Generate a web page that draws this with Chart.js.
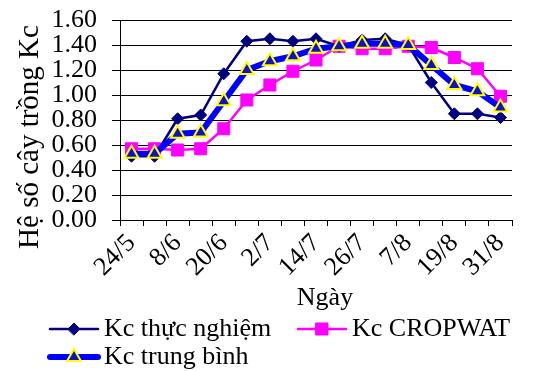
<!DOCTYPE html>
<html lang="vi">
<head>
<meta charset="UTF-8">
<title>Kc</title>
<style>
  body { margin: 0; background: #fff; }
  canvas { display: block; }
</style>
<script src="https://cdn.jsdelivr.net/npm/chart.js"></script>
</head>
<body>
<canvas id="kcChart" width="536" height="371"></canvas>
<script>
// ngày đo (chỉ hiện nhãn cách một)
const days = ['24/5', '31/5', '8/6', '14/6', '20/6', '26/6', '2/7', '8/7', '14/7',
              '20/7', '26/7', '1/8', '7/8', '13/8', '19/8', '25/8', '31/8'];
const kcThucNghiem = [0.51, 0.51, 0.81, 0.84, 1.17, 1.43, 1.45, 1.43, 1.45,
                      1.39, 1.44, 1.45, 1.40, 1.10, 0.85, 0.85, 0.82];
const kcCropwat = [0.57, 0.57, 0.56, 0.57, 0.73, 0.96, 1.08, 1.19, 1.28,
                   1.39, 1.37, 1.37, 1.39, 1.38, 1.30, 1.21, 0.99];
const kcTrungBinh = [0.53, 0.53, 0.69, 0.70, 0.95, 1.20, 1.27, 1.31, 1.37,
                     1.39, 1.41, 1.41, 1.40, 1.24, 1.08, 1.03, 0.90];
const yTicks = [0, 0.2, 0.4, 0.6, 0.8, 1.0, 1.2, 1.4, 1.6];
const seriesNames = ['Kc thực nghiệm', 'Kc CROPWAT', 'Kc trung bình'];
const yTitle = 'Hệ số cây trồng Kc';
const xTitle = 'Ngày';

const FONT = 'Liberation Serif';
const FS = 26;

// legend + axis titles drawn by hand (Excel style line+marker samples)
const excelBits = {
  id: 'excelBits',
  afterDraw(chart) {
    const ctx = chart.ctx;
    ctx.save();
    ctx.fillStyle = '#000';
    ctx.textBaseline = 'middle';

    // y title
    ctx.save();
    ctx.font = '29px "' + FONT + '"';
    ctx.translate(30, 137);
    ctx.rotate(-Math.PI / 2);
    ctx.textAlign = 'center';
    ctx.fillText(yTitle, 0, 0);
    ctx.restore();

    ctx.font = FS + 'px "' + FONT + '"';
    // x title
    ctx.textAlign = 'center';
    ctx.fillText(xTitle, 325, 298);

    const spots = [[48, 329], [296, 329], [48, 357]];
    chart.data.datasets.forEach((ds, i) => {
      const [x, y] = spots[i];
      ctx.save();
      ctx.strokeStyle = ds.borderColor;
      ctx.lineWidth = ds.borderWidth;
      ctx.lineCap = 'round';
      ctx.beginPath();
      ctx.moveTo(x + 2, y);
      ctx.lineTo(x + 50, y);
      ctx.stroke();
      ctx.fillStyle = ds.pointBackgroundColor;
      ctx.strokeStyle = ds.pointBorderColor;
      ctx.lineWidth = ds.pointBorderWidth;
      Chart.helpers.drawPoint(ctx, {
        pointStyle: ds.pointStyle, radius: ds.pointRadius, rotation: 0,
        borderWidth: ds.pointBorderWidth
      }, x + 26, y);
      ctx.restore();
      ctx.textAlign = 'left';
      ctx.fillText(ds.label, x + 56, y);
    });
    ctx.restore();
  }
};

const ctx = document.getElementById('kcChart').getContext('2d');
new Chart(ctx, {
  type: 'line',
  data: {
    labels: days,
    datasets: [{
      label: seriesNames[0],
      data: kcThucNghiem,
      borderColor: '#000080',
      borderWidth: 2.5,
      pointStyle: 'rectRot',
      pointRadius: 6,
      pointBackgroundColor: '#000080',
      pointBorderColor: '#000080',
      pointBorderWidth: 1,
      order: 1
    }, {
      label: seriesNames[1],
      data: kcCropwat,
      borderColor: '#FF00FF',
      borderWidth: 2.5,
      pointStyle: 'rect',
      pointRadius: 8.5,
      pointBackgroundColor: '#FF00FF',
      pointBorderColor: '#FF00FF',
      pointBorderWidth: 1,
      order: 2
    }, {
      label: seriesNames[2],
      data: kcTrungBinh,
      borderColor: '#0000FF',
      borderWidth: 6,
      pointStyle: 'triangle',
      pointRadius: 8,
      pointBackgroundColor: '#1010C8',
      pointBorderColor: '#FFFF00',
      pointBorderWidth: 2,
      order: 0
    }]
  },
  options: {
    responsive: false,
    animation: false,
    layout: { padding: { left: 0, right: 24, top: 20, bottom: 60 } },
    plugins: {
      legend: { display: false },
      tooltip: { enabled: false }
    },
    scales: {
      x: {
        offset: true,
        grid: { display: true, offset: true, drawOnChartArea: false, drawTicks: true,
                tickLength: 6, color: '#000', lineWidth: 1 },
        border: { color: '#000', width: 1 },
        ticks: {
          autoSkip: false, maxRotation: 45, minRotation: 45, padding: 2,
          color: '#000', font: { family: FONT, size: FS },
          callback: (v, i) => (i % 2 === 0 ? days[i] : '')
        },
        afterFit: s => { s.height = 91; s.paddingLeft = 0; s.paddingRight = 0; }
      },
      y: {
        min: 0,
        max: 1.6,
        afterBuildTicks: s => { s.ticks = yTicks.map(v => ({ value: v })); },
        grid: { color: '#000', lineWidth: 1, tickLength: 8 },
        border: { color: '#000', width: 1 },
        ticks: {
          autoSkip: false, padding: 15, color: '#000', font: { family: FONT, size: FS },
          callback: v => v.toFixed(2)
        },
        afterFit: s => { s.width = 120; s.paddingTop = 0; s.paddingBottom = 0; }
      }
    }
  },
  plugins: [excelBits]
});
</script>
</body>
</html>
